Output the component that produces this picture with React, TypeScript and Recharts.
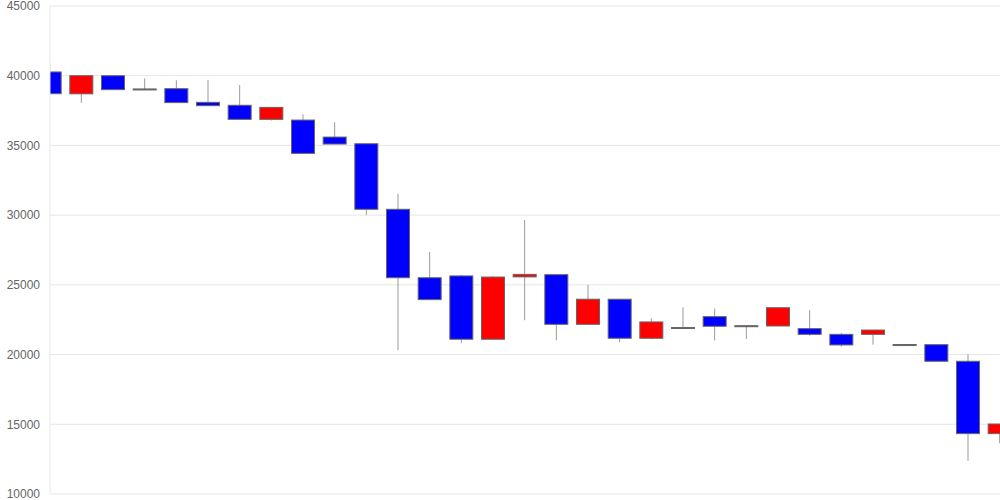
import { ComposedChart, Bar, XAxis, YAxis, CartesianGrid } from "recharts";

const opens = [
  40270, 38700, 40000, 39000, 39070, 38090, 37880, 36870, 36820, 35600, 35120,
  30420, 25510, 25640, 21100, 25570, 25730, 22170, 23970, 21170, 21920, 22720,
  22030, 22050, 21860, 21450, 21450, 20720, 20710, 19520, 14330,
];
const closes = [
  38710, 40000, 39000, 39050, 38070, 37850, 36870, 37730, 34430, 35100, 30420,
  25510, 23940, 21100, 25560, 25750, 22170, 23970, 21170, 22340, 21940, 22030,
  22070, 23360, 21450, 20690, 21760, 20700, 19520, 14330, 15020,
];
const highs = [
  40930, 40000, 40000, 39810, 39670, 39700, 39330, 37730, 37230, 36660, 35120,
  31520, 27360, 25710, 25640, 29650, 25730, 25010, 23970, 22600, 23390, 23290,
  22070, 23360, 23180, 21550, 21760, 20720, 20710, 20020, 15020,
];
const lows = [
  38710, 38050, 39000, 39000, 38070, 37850, 36870, 36780, 34430, 35100, 30010,
  20330, 23940, 20810, 21100, 22460, 21020, 22170, 20880, 21100, 21920, 21020,
  21120, 22050, 21350, 20570, 20710, 20700, 19520, 12370, 13640,
];
const yTicks = [10000, 15000, 20000, 25000, 30000, 35000, 40000, 45000];

const data = opens.map((open, i) => ({
  i,
  open,
  close: closes[i],
  high: highs[i],
  low: lows[i],
  range: [lows[i], highs[i]],
}));

const Candle = (props: any) => {
  const { x, y, width, height, payload } = props;
  const { open, close, high, low } = payload;
  const span = high - low || 1;
  const py = (v: number) => y + ((high - v) / span) * height;
  const cx = x + width / 2;
  const top = py(Math.max(open, close));
  const bottom = py(Math.min(open, close));
  const up = close >= open;
  return (
    <g>
      <line x1={cx} x2={cx} y1={py(high)} y2={py(low)} stroke="#999" strokeWidth={1} />
      <rect
        x={x}
        y={top}
        width={width}
        height={Math.max(bottom - top, 1)}
        fill={up ? "#ff0000" : "#0000ff"}
        stroke="#666"
        strokeWidth={1}
      />
    </g>
  );
};

export default function App() {
  return (
    <div style={{ position: "absolute", left: 0, top: 0 }}>
      <ComposedChart
        width={1000}
        height={500}
        data={data}
        margin={{ top: 6, right: 0, bottom: 6, left: 0 }}
      >
        <CartesianGrid vertical={false} stroke="#e6e6e6" />
        <XAxis
          dataKey="i"
          type="number"
          domain={[0, 30]}
          allowDataOverflow
          hide
        />
        <YAxis
          width={50}
          domain={[10000, 45000]}
          ticks={yTicks}
          interval={0}
          tickLine={false}
          tickSize={0}
          tickMargin={10}
          axisLine={{ stroke: "#e6e6e6" }}
          tick={{ fill: "#666", fontSize: 12, fontFamily: "Arial, Liberation Sans" }}
        />
        <Bar
          dataKey="range"
          barSize={23}
          shape={<Candle />}
          isAnimationActive={false}
        />
      </ComposedChart>
    </div>
  );
}
